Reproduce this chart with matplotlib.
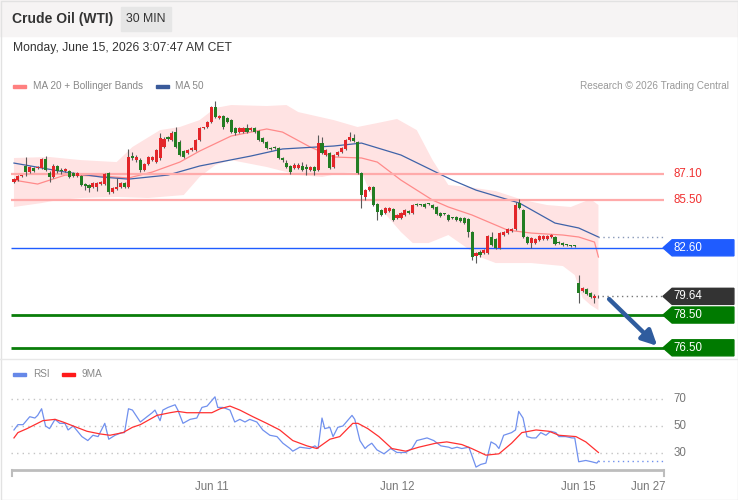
import numpy as np
import matplotlib
matplotlib.use('Agg')
import matplotlib.pyplot as plt
from matplotlib.patches import Rectangle, Polygon

plt.rcParams['font.family'] = ['Liberation Sans', 'DejaVu Sans']

# 30 min candles, Jun 10 -> Jun 15 (bar index 0..148)
opens = [86.61, 86.73, 86.98, 87.59, 87.22, 87.47, 87.47, 87.47, 88.02, 87.16,
         86.92, 87.59, 87.28, 87.28, 87.28, 87.16, 86.98, 86.98, 86.49, 86.43,
         86.31, 86.31, 86.49, 86.49, 87.16, 86.00, 86.18, 86.31, 86.55, 86.31,
         88.20, 87.95, 87.95, 87.34, 87.71, 87.95, 87.83, 88.08, 88.75, 89.36,
         89.17, 89.66, 89.05, 88.50, 88.38, 88.56, 88.56, 89.17, 89.91, 89.97,
         90.27, 91.19, 90.52, 90.64, 90.52, 90.39, 89.91, 89.66, 89.66, 89.91,
         89.78, 89.91, 89.72, 89.30, 89.05, 88.69, 88.69, 88.69, 88.08, 87.77,
         87.59, 87.47, 87.47, 87.59, 87.53, 87.34, 87.53, 87.34, 88.99, 88.26,
         88.38, 87.53, 88.26, 88.44, 88.63, 89.17, 89.30, 89.05, 87.16, 85.70,
         86.12, 86.31, 85.27, 84.90, 84.72, 84.84, 84.96, 84.42, 84.42, 84.60,
         84.84, 84.72, 85.21, 85.21, 85.27, 85.27, 85.21, 85.09, 84.72, 84.66,
         84.60, 84.42, 84.48, 84.42, 84.42, 84.35, 83.56, 82.10, 82.34, 82.28,
         82.28, 83.26, 83.13, 82.59, 83.38, 83.50, 83.62, 83.75, 85.33, 84.90,
         83.26, 82.89, 82.89, 83.07, 83.13, 83.13, 83.26, 83.26, 82.95, 82.89,
         82.77, 82.71, 82.71, 80.45, 79.96, 80.09, 79.84, 79.54, 79.66]
highs = [86.86, 87.04, 87.04, 88.14, 87.59, 87.53, 87.59, 88.08, 88.20, 87.28,
         87.71, 87.65, 87.47, 87.47, 87.34, 87.22, 87.22, 87.04, 86.55, 86.49,
         86.61, 86.61, 86.67, 87.16, 87.22, 86.31, 86.86, 86.61, 86.61, 88.63,
         88.44, 88.26, 88.08, 87.77, 88.20, 88.20, 88.63, 89.60, 89.36, 89.42,
         89.72, 89.97, 89.17, 88.56, 88.63, 88.75, 89.24, 89.97, 89.97, 90.33,
         91.25, 91.55, 90.70, 90.70, 90.58, 90.46, 89.97, 89.97, 89.97, 90.15,
         89.97, 89.97, 89.78, 89.36, 89.11, 88.75, 88.81, 88.75, 88.14, 87.95,
         87.65, 87.77, 87.77, 87.83, 87.71, 87.59, 87.59, 89.48, 89.36, 88.63,
         88.44, 88.32, 88.50, 88.75, 89.24, 89.66, 89.54, 89.11, 87.22, 86.18,
         86.37, 86.37, 85.33, 84.96, 85.09, 85.09, 85.03, 84.66, 84.78, 84.96,
         84.90, 85.27, 85.33, 85.27, 85.33, 85.33, 85.27, 85.15, 84.78, 84.72,
         84.66, 84.48, 84.54, 84.48, 84.48, 84.42, 83.62, 82.34, 82.46, 82.53,
         83.38, 83.56, 83.20, 83.56, 83.62, 83.81, 83.81, 85.39, 85.57, 84.96,
         83.32, 83.26, 83.20, 83.38, 83.38, 83.38, 83.44, 83.32, 83.01, 82.95,
         82.83, 82.77, 82.77, 80.94, 80.21, 80.15, 79.90, 79.78, 79.72]
lows = [86.55, 86.67, 86.92, 86.98, 87.16, 87.22, 87.41, 87.41, 87.28, 86.61,
        86.86, 87.16, 87.10, 87.22, 86.86, 86.92, 86.92, 86.37, 86.12, 86.00,
        86.25, 86.06, 86.43, 86.43, 85.88, 85.94, 86.12, 86.25, 86.25, 86.25,
        87.95, 87.83, 87.22, 87.28, 87.65, 87.89, 87.77, 87.95, 88.69, 89.11,
        89.11, 88.69, 88.20, 88.08, 88.32, 88.50, 88.50, 89.11, 89.85, 89.91,
        90.21, 90.52, 90.46, 89.85, 90.21, 89.60, 89.48, 89.60, 89.60, 89.60,
        89.72, 89.60, 89.11, 88.99, 88.63, 88.56, 88.63, 88.02, 87.83, 87.47,
        87.10, 87.41, 87.41, 87.28, 87.04, 87.28, 87.04, 87.28, 88.32, 88.20,
        87.41, 87.47, 88.20, 88.38, 88.56, 89.11, 89.05, 87.10, 85.03, 85.51,
        86.06, 85.15, 84.29, 84.54, 84.66, 84.78, 84.23, 84.35, 84.35, 84.54,
        84.66, 84.66, 85.15, 85.15, 85.03, 85.21, 84.96, 84.60, 84.48, 84.60,
        84.23, 84.35, 84.23, 84.17, 84.05, 83.26, 81.85, 81.67, 82.04, 82.22,
        82.22, 82.71, 82.53, 82.53, 83.32, 83.44, 83.56, 83.68, 84.96, 83.20,
        82.83, 82.59, 82.83, 83.01, 83.07, 83.07, 83.20, 82.77, 82.83, 82.71,
        82.71, 82.65, 82.65, 79.23, 79.90, 79.72, 79.54, 79.23, 79.54]
closes = [86.79, 86.98, 86.98, 87.22, 87.53, 87.28, 87.53, 88.02, 87.34, 86.92,
          87.59, 87.28, 87.27, 87.41, 86.92, 86.98, 87.16, 86.43, 86.37, 86.25,
          86.55, 86.55, 86.61, 87.10, 86.00, 86.25, 86.31, 86.55, 86.31, 88.14,
          88.08, 88.14, 87.34, 87.71, 88.14, 88.14, 88.56, 89.30, 89.24, 89.24,
          89.60, 88.75, 88.26, 88.14, 88.56, 88.69, 89.17, 89.91, 89.91, 90.27,
          91.19, 90.58, 90.64, 89.97, 90.27, 89.66, 89.60, 89.91, 89.91, 89.66,
          89.91, 89.66, 89.17, 89.05, 88.69, 88.63, 88.68, 88.08, 87.95, 87.53,
          87.22, 87.65, 87.65, 87.34, 87.41, 87.53, 87.28, 88.99, 88.38, 88.56,
          87.47, 88.26, 88.44, 88.69, 89.17, 89.36, 89.11, 87.16, 85.82, 86.12,
          86.31, 85.21, 84.78, 84.60, 85.03, 85.03, 84.29, 84.60, 84.72, 84.90,
          84.72, 85.21, 85.20, 85.20, 85.09, 85.26, 85.03, 84.66, 84.54, 84.65,
          84.29, 84.41, 84.29, 84.23, 84.11, 83.56, 82.04, 82.28, 82.16, 82.46,
          83.32, 82.77, 82.59, 83.50, 83.56, 83.75, 83.75, 85.21, 85.03, 83.26,
          82.89, 83.20, 83.13, 83.32, 83.32, 83.32, 83.38, 82.83, 82.89, 82.77,
          82.76, 82.70, 82.70, 79.84, 80.15, 79.78, 79.60, 79.66, 79.64]

# moving averages / bands (bar index, price)
ma20_pos = [0, 6, 13, 22, 29, 35, 42, 47, 55, 64, 68, 75, 81, 88, 92, 98, 106,
            110, 116, 125, 131, 139, 143, 147, 148]
ma20_val = [86.73, 86.49, 87.04, 86.98, 86.86, 87.22, 87.83, 88.50, 89.42, 89.85,
            89.66, 88.75, 88.14, 88.08, 87.83, 86.73, 85.51, 85.09, 84.60, 83.68,
            83.50, 83.38, 83.26, 82.95, 82.04]
ma50_pos = [0, 13, 22, 29, 39, 47, 60, 68, 81, 88, 98, 111, 117, 128, 137, 143, 148]
ma50_val = [87.77, 87.22, 86.92, 86.79, 87.04, 87.59, 88.20, 88.63, 88.81, 88.99,
            88.26, 86.73, 86.12, 85.33, 84.11, 83.81, 83.26]
bb_up_pos = [0, 9, 17, 26, 30, 37, 42, 47, 51, 55, 64, 69, 72, 81, 87, 92, 97,
             102, 106, 110, 115, 122, 129, 135, 141, 146, 148]
bb_up_val = [88.08, 88.14, 87.95, 87.83, 88.75, 89.78, 89.97, 90.39, 91.13, 91.31,
             91.25, 91.31, 90.88, 90.39, 89.97, 90.21, 90.46, 89.78, 87.95, 86.43,
             86.31, 86.06, 85.51, 85.21, 85.09, 85.57, 85.21]
bb_lo_pos = [0, 7, 11, 17, 26, 34, 43, 47, 51, 55, 64, 72, 78, 83, 88, 91, 98,
             101, 105, 110, 118, 122, 131, 139, 142, 144, 146, 148]
bb_lo_val = [85.09, 85.33, 85.51, 85.64, 85.70, 85.64, 85.82, 86.92, 87.65, 87.95,
             87.53, 87.04, 86.92, 87.16, 87.22, 85.51, 83.56, 82.89, 82.89, 83.38,
             82.04, 81.67, 81.67, 81.49, 80.94, 79.54, 79.11, 78.80]

# RSI and its 9 period MA
rsi_pos = [0, 1, 2.3, 4, 5.3, 6, 7, 8, 9, 10.4, 11.6, 12.9, 13.7, 15, 17.2, 18.7,
           20, 21.3, 23, 24, 25.6, 27.3, 28, 29, 30, 32, 33.7, 35, 35.7, 37, 37.7,
           39, 40.8, 41.5, 42.8, 44.6, 46.3, 47.6, 48.9, 50.9, 51.6, 52.9, 54.7,
           55.9, 57.2, 58.5, 59.7, 61.5, 63, 64.8, 66.6, 68.1, 69.9, 70.6, 72.4,
           74.9, 76.2, 77, 78, 78.7, 80, 80.8, 82, 83.3, 85.6, 86.3, 87.6, 88.9,
           89.6, 90.6, 91.9, 93.7, 95.4, 97, 99.2, 100.8, 102, 104.6, 106.3, 108.1,
           110.1, 110.9, 112.2, 113.4, 115.2, 117, 118.2, 119.5, 120.8, 122, 122.8,
           124, 126, 127, 127.8, 128.9, 129.9, 131.1, 132.2, 133.4, 134.7, 135.9,
           137.2, 138, 139.7, 141.3, 142, 143, 144.8, 146.3, 147.6, 148]
rsi_val = [47, 51, 51, 57, 56, 58, 63, 50, 48, 55, 52, 52, 47, 50, 42, 39,
           43, 42, 52, 40, 43, 45, 45, 63, 62, 53, 57, 60, 62, 54, 62,
           64, 66, 62, 52, 55, 56, 64, 65, 72, 64, 64, 62,
           53, 55, 53, 55, 53, 47, 43, 42, 37, 33, 31, 34,
           33, 35, 33, 56, 48, 49, 42, 49, 50, 58, 55, 39, 33,
           35, 37, 32, 29, 33, 30, 30, 33, 39, 41, 39, 35,
           34, 33, 34, 33, 34, 19, 21, 22, 38, 36, 33,
           43, 45, 47, 61, 56, 42, 41, 41, 45, 43, 46,
           45, 42, 42, 41, 41, 23, 24, 23, 22, 23.5]
rsi_ma_pos = [0, 1, 3.3, 5.3, 7.3, 10.4, 12.4, 15, 18.5, 21.8, 24.3, 27.6, 30, 32,
              36.2, 39.5, 41.5, 43.8, 47.1, 50.1, 52.2, 54.7, 57.2, 60.5, 64, 67.3,
              70.6, 74.2, 76.7, 80, 82.5, 85.8, 87.1, 89.6, 92.4, 95.7, 99.2, 102.5,
              106.8, 109.6, 113.4, 115.9, 119.5, 122.8, 126, 128.6, 132.2, 135.5,
              138, 142.3, 144.8, 148]
rsi_ma_val = [41, 45, 48, 51, 54, 55, 53, 50, 46, 44, 43, 45, 49, 51,
              58, 60, 61, 60, 60, 60, 63, 65, 62, 57, 52, 47,
              39, 35, 33, 40, 42, 52, 52, 48, 42, 33, 31, 34,
              37, 38, 36, 33, 28, 29, 37, 45, 47, 46,
              43, 42, 38, 30]

# key levels
resistances = [87.10, 85.50]
pivot = 82.60
supports = [78.50, 76.50]
last_price = 79.64
target = 76.50

tick_pos = [50, 97, 143, 160.5]
tick_labels = ['Jun 11', 'Jun 12', 'Jun 15', 'Jun 27']

RED = '#e3262a'
GREEN = '#237d23'

fig = plt.figure(figsize=(7.38, 5.0), dpi=100)

# background / header in pixel coordinates
bg = fig.add_axes([0, 0, 1, 1])
bg.set_xlim(0, 738)
bg.set_ylim(500, 0)
bg.axis('off')
bg.add_patch(Rectangle((0, 0), 738, 36, color='#f6f4f4', zorder=0))
bg.add_patch(Rectangle((0.5, 0.5), 737, 499, fill=False, ec='#e2e2e2', lw=1))
bg.plot([0, 738], [359, 359], color='#e8e8e8', lw=1)
bg.text(12, 19, 'Crude Oil (WTI)', fontsize=10, fontweight='bold', color='#333333', va='center')
bg.add_patch(Rectangle((121, 7), 50, 24, color='#e6e6e6'))
bg.text(146, 19, '30 MIN', fontsize=8.8, color='#333333', ha='center', va='center')
bg.text(13, 48, 'Monday, June 15, 2026 3:07:47 AM CET', fontsize=8.7, color='#333333', va='center')
bg.add_patch(Rectangle((13, 84.5), 13, 3.5, color='#ff8080'))
bg.text(33, 86, 'MA 20 + Bollinger Bands', fontsize=7.2, color='#888888', va='center')
bg.add_patch(Rectangle((156, 84.5), 13, 3.5, color='#3a5a9a'))
bg.text(175, 86, 'MA 50', fontsize=7.2, color='#888888', va='center')
bg.text(729, 86, 'Research \u00a9 2026 Trading Central', fontsize=7.2, color='#999999',
        va='center', ha='right')
bg.add_patch(Rectangle((13, 372.5), 13, 3.5, color='#6688e8'))
bg.text(33, 374, 'RSI', fontsize=7.2, color='#888888', va='center')
bg.add_patch(Rectangle((62, 372.5), 13, 3.5, color='#ff1a1a'))
bg.text(82, 374, '9MA', fontsize=7.2, color='#888888', va='center')
# axis line under RSI with end ticks
bg.plot([11, 664], [470, 470], color='#bdbdbd', lw=2, solid_capstyle='butt')
bg.plot([11.5, 11.5], [470, 476], color='#bdbdbd', lw=1.5)
bg.plot([663.5, 663.5], [470, 476], color='#bdbdbd', lw=1.5)

XMIN, XMAX = -0.75, 164.6

# price panel
ax = fig.add_axes([11 / 738, 143 / 500, 653 / 738, 260 / 500])
ax.set_xlim(XMIN, XMAX)
ax.set_ylim(75.94, 91.80)
ax.axis('off')

band_x = np.concatenate([bb_up_pos, bb_lo_pos[::-1]])
band_y = np.concatenate([bb_up_val, bb_lo_val[::-1]])
ax.fill(band_x, band_y, color='#ffe3e3', lw=0, zorder=1)
ax.plot(ma20_pos, ma20_val, color='#ff8a8a', lw=0.9, zorder=2)
ax.plot(ma50_pos, ma50_val, color='#3f63a8', lw=0.9, zorder=2)
ax.hlines(ma50_val[-1], ma50_pos[-1], 164.3, colors='#8898b8', linestyles=(0, (1, 2.5)), lw=1)

for r in resistances:
    ax.hlines(r, XMIN, XMAX, colors='#ffaaaa', lw=1.6, zorder=2)
ax.hlines(pivot, XMIN, XMAX, colors='#1f5cff', lw=1, zorder=2)
for s in supports:
    ax.hlines(s, XMIN, XMAX, colors='#0a7d0a', lw=2, zorder=2)

idx = np.arange(len(closes))
o = np.array(opens)
c = np.array(closes)
body_col = [RED if cc >= oo else GREEN for oo, cc in zip(o, c)]
ax.vlines(idx, lows, highs, colors='#5a5a5a', lw=0.8, zorder=3)
ax.bar(idx, np.maximum(np.abs(c - o), 0.05), bottom=np.minimum(o, c), width=0.78,
       color=body_col, lw=0, zorder=4)

ax.hlines(last_price, len(closes), 164.3, colors='#777777', linestyles=(0, (1, 2.5)), lw=1)
ax.annotate('', xy=(163.4, target), xytext=(150.2, last_price - 0.05),
            arrowprops=dict(arrowstyle='-|>,head_length=0.9,head_width=0.45',
                            color='#2f5c9e', lw=3.2), zorder=5)

# level labels
tip, notch, right, hh = 164.35, 2.3, 182.3, 0.49
tx = 166.9
for r in resistances:
    ax.text(tx, r, f'{r:.2f}', color='#f03030', fontsize=8.3, va='center', clip_on=False)
boxes = [(pivot, '#1f5cff'), (last_price, '#333333'), (supports[0], '#007a00'),
         (supports[1], '#007a00')]
for val, col in boxes:
    pts = [(tip, val), (tip + notch, val + hh), (right, val + hh),
           (right, val - hh), (tip + notch, val - hh)]
    ax.add_patch(Polygon(pts, closed=True, color=col, clip_on=False, zorder=6))
    ax.text(tx, val, f'{val:.2f}', color='white', fontsize=8.3, va='center',
            clip_on=False, zorder=7)

# RSI panel
rax = fig.add_axes([11 / 738, 30 / 500, 653 / 738, 105 / 500])
rax.set_xlim(XMIN, XMAX)
rax.set_ylim(16.8, 96.0)
for sp in rax.spines.values():
    sp.set_visible(False)
rax.set_yticks([])
rax.set_xticks(tick_pos)
rax.set_xticklabels(tick_labels, fontsize=8.3, color='#777777')
rax.tick_params(axis='x', length=0, pad=8)
rax.patch.set_alpha(0)
rax.hlines([30, 50, 70], XMIN, XMAX, colors='#c4c4c4', linestyles=(0, (1, 3)), lw=1)
for lv in [30, 50, 70]:
    rax.text(166.9, lv, str(lv), color='#777777', fontsize=8.3, va='center', clip_on=False)
rax.plot(rsi_pos, rsi_val, color='#7090ee', lw=0.9)
rax.plot(rsi_ma_pos, rsi_ma_val, color='#ff3030', lw=0.9)
rax.hlines(rsi_val[-1], rsi_pos[-1], 164.3, colors='#7090ee', linestyles=(0, (1, 2.5)), lw=1)

fig.savefig('out.png', dpi=100)
